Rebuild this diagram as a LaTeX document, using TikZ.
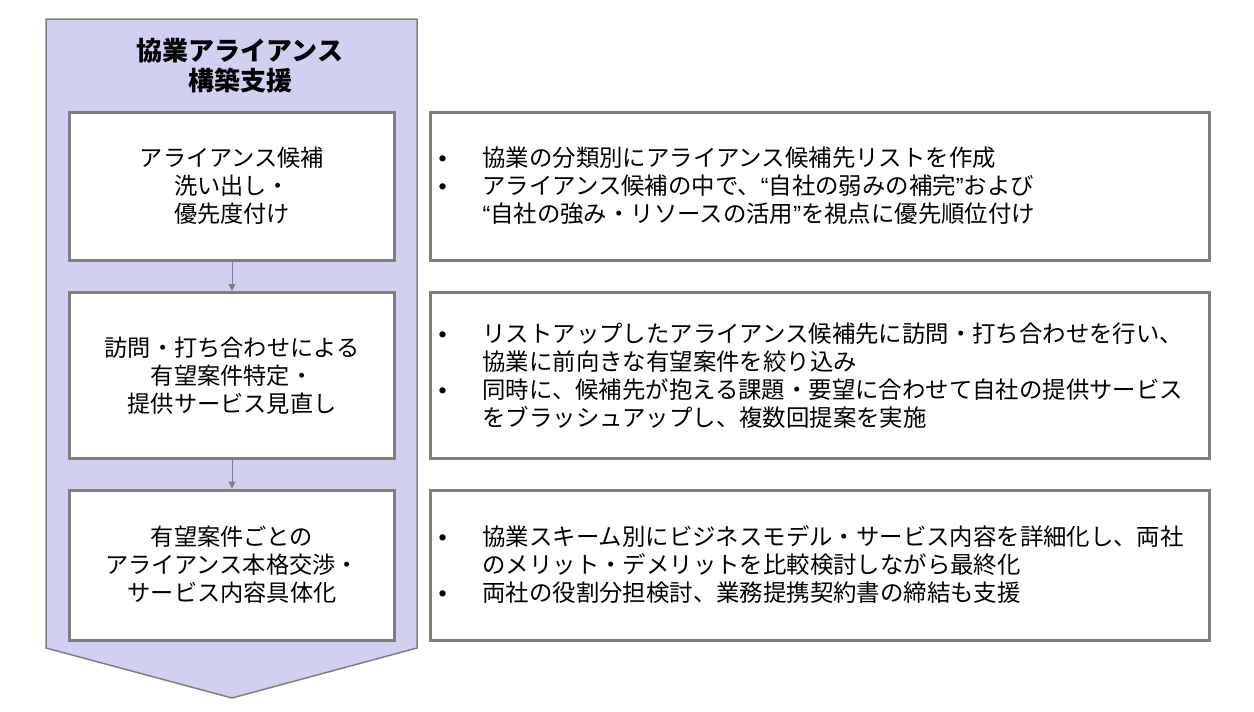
\documentclass[tikz,border=0pt]{standalone}
\usepackage{fontspec}
\setmainfont{Noto Sans CJK JP}
\newfontfamily\latinfont{Liberation Sans}
\usetikzlibrary{arrows.meta}
\definecolor{lineGray}{HTML}{7F7F7F}
\definecolor{lavender}{HTML}{D0D0F2}
\newcommand\bul{\makebox[44pt][l]{{\latinfont\fontsize{23}{28}\selectfont •}}}
\newcommand\ind{\hspace*{44pt}}
\newcommand\oq{{\latinfont “}}
\newcommand\cq{{\latinfont ”}}
\tikzset{
    phasebox/.style={draw=lineGray, line width=3pt, fill=white, inner sep=0pt,
        minimum width=325pt, align=center, font=\fontsize{23.2}{28}\selectfont},
    detailbox/.style={draw=lineGray, line width=3pt, fill=white, inner xsep=8pt,
        inner ysep=0pt, text width=763pt, align=left, font=\fontsize{23.4}{28}\selectfont},
}
\begin{document}
\begin{tikzpicture}[x=1pt, y=-1pt]
    \useasboundingbox (0,0) rectangle (1254,712);
    \draw[lineGray, line width=1.5pt, fill=lavender]
        (46,19) -- (417,19) -- (417,648) -- (232,698) -- (46,648) -- cycle;
    \node (title) at (240,66) [align=center, font=\fontsize{26}{30}\selectfont\bfseries]
        {協業アライアンス\\構築支援};

    \foreach \i/\y/\h/\t in {1/186/148/{アライアンス候補\\洗い出し・\\優先度付け},
                             2/375.5/166/{訪問・打ち合わせによる\\有望案件特定・\\提供サービス見直し},
                             3/565/150/{有望案件ごとの\\アライアンス本格交渉・\\サービス内容具体化}}
        {\node (phase\i) [phasebox, minimum height=\h pt] at (232,\y) {\t};}

    \foreach \i/\j in {1/2,2/3}
        {\draw[lineGray, line width=1pt, -{Triangle[width=7pt,length=7pt]}] (phase\i) -- (phase\j);}

    \node (detail1) [detailbox, minimum height=148pt] at (820,186)
        {\bul 協業の分類別にアライアンス候補先リストを作成\\
         \bul アライアンス候補の中で、\oq 自社の弱みの補完\cq および\\
         \ind\oq 自社の強み・リソースの活用\cq を視点に優先順位付け};
    \node (detail2) [detailbox, minimum height=166pt] at (820,375.5)
        {\bul リストアップしたアライアンス候補先に訪問・打ち合わせを行い、\\
         \ind 協業に前向きな有望案件を絞り込み\\
         \bul 同時に、候補先が抱える課題・要望に合わせて自社の提供サービス\\
         \ind をブラッシュアップし、複数回提案を実施};
    \node (detail3) [detailbox, minimum height=150pt] at (820,565)
        {\bul 協業スキーム別にビジネスモデル・サービス内容を詳細化し、両社\\
         \ind のメリット・デメリットを比較検討しながら最終化\\
         \bul 両社の役割分担検討、業務提携契約書の締結も支援};
\end{tikzpicture}
\end{document}
